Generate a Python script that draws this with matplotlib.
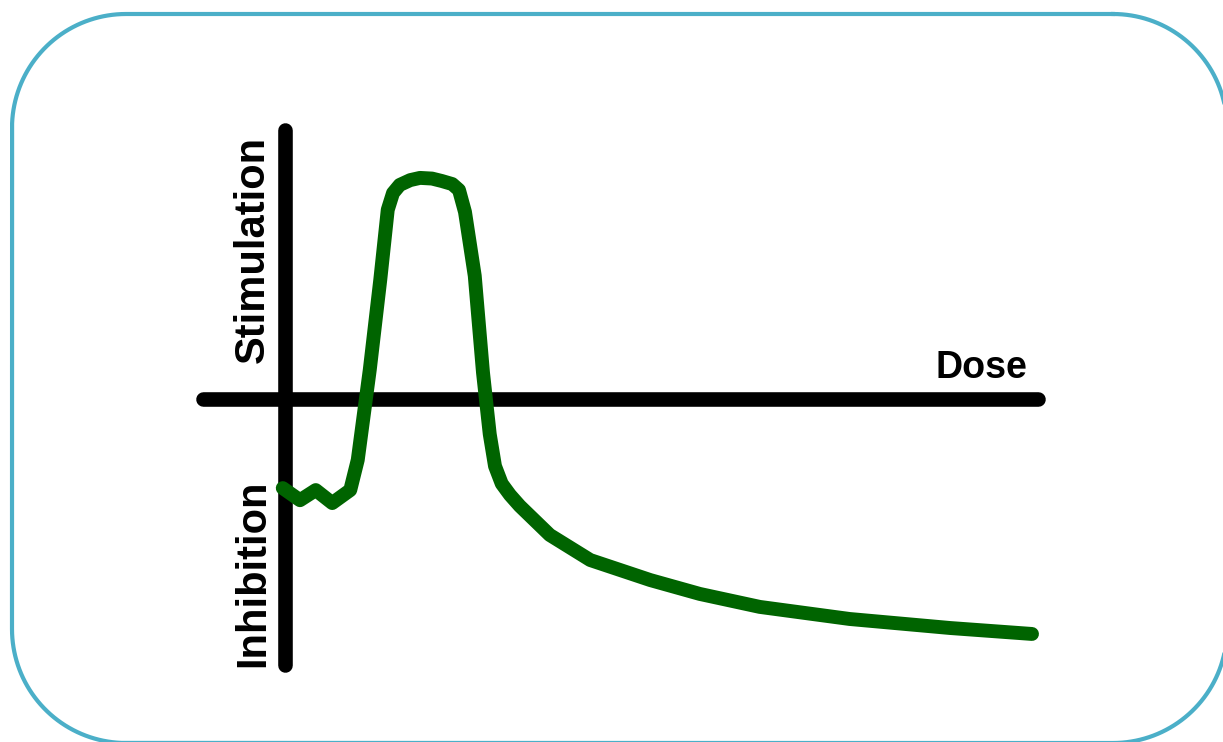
import matplotlib.pyplot as plt
import numpy as np

# hormesis style dose-response curve (arbitrary units)
dose = [-0.3, 2.0, 4.1, 6.3, 8.7, 9.7, 11.3, 12.7, 13.7, 14.4, 15.3, 16.7, 18.0, 19.6, 20.9, 22.3, 23.2, 24.0, 25.3, 26.4, 27.3, 28.0, 28.9, 30.0, 31.3, 35.3, 40.7, 48.7, 55.3, 63.3, 75.3, 88.7, 99.6]
response = [-40.5, -46.0, -41.4, -47.3, -41.4, -27.7, 13.2, 54.1, 86.0, 93.6, 97.3, 99.5, 100.5, 100.2, 99.1, 97.7, 95.0, 85.0, 56.0, 12.0, -16.0, -30.5, -38.5, -43.6, -48.6, -61.8, -73.2, -82.3, -88.6, -94.5, -100.0, -104.1, -106.8]

axis_color = 'black'
curve_color = '#006400'
border_color = '#4bafc8'

fig = plt.figure(figsize=(12.23, 7.42), dpi=100)

# background layer in pixel units (y down) for the rounded frame
bg = fig.add_axes([0, 0, 1, 1])
bg.set_xlim(0, 1223)
bg.set_ylim(742, 0)
bg.axis('off')

left, top, right, bottom, r = 12, 14, 1227, 743, 114
corners = [(right - r, top + r, -90, 0), (right - r, bottom - r, 0, 90),
           (left + r, bottom - r, 90, 180), (left + r, top + r, 180, 270)]
fx, fy = [], []
for cx, cy, a0, a1 in corners:
    t = np.radians(np.linspace(a0, a1, 40))
    fx.extend(cx + r * np.cos(t))
    fy.extend(cy + r * np.sin(t))
fx.append(fx[0])
fy.append(fy[0])
bg.plot(fx, fy, color=border_color, linewidth=3, clip_on=False)

# chart layer, origin at the crossing of the two axes
ax = fig.add_axes([0, 0, 1, 1])
ax.patch.set_alpha(0)
px_x, px_y = 7.5, 2.2
ax.set_xlim(-285 / px_x, (1223 - 285) / px_x)
ax.set_ylim((399 - 742) / px_y, 399 / px_y)
ax.axis('off')

ax.plot([(203 - 285) / px_x, (1038 - 285) / px_x], [0, 0],
        color=axis_color, linewidth=10.5, solid_capstyle='round')
ax.plot([0, 0], [(399 - 130) / px_y, (399 - 665) / px_y],
        color=axis_color, linewidth=10.5, solid_capstyle='round')

ax.plot(dose, response, color=curve_color, linewidth=10,
        solid_capstyle='round', solid_joinstyle='round')

font = ['Liberation Sans', 'DejaVu Sans']
ax.text((1027 - 285) / px_x, (399 - 378) / px_y, 'Dose', ha='right', va='baseline',
        fontsize=27, fontweight='bold', family=font)
ax.text((253 - 285) / px_x, (399 - 249) / px_y, 'Stimulation', rotation=90,
        ha='center', va='center', fontsize=30, fontweight='bold', family=font)
ax.text((253 - 285) / px_x, (399 - 573) / px_y, 'Inhibition', rotation=90,
        ha='center', va='center', fontsize=30, fontweight='bold', family=font)

fig.savefig('out.png', dpi=100)
